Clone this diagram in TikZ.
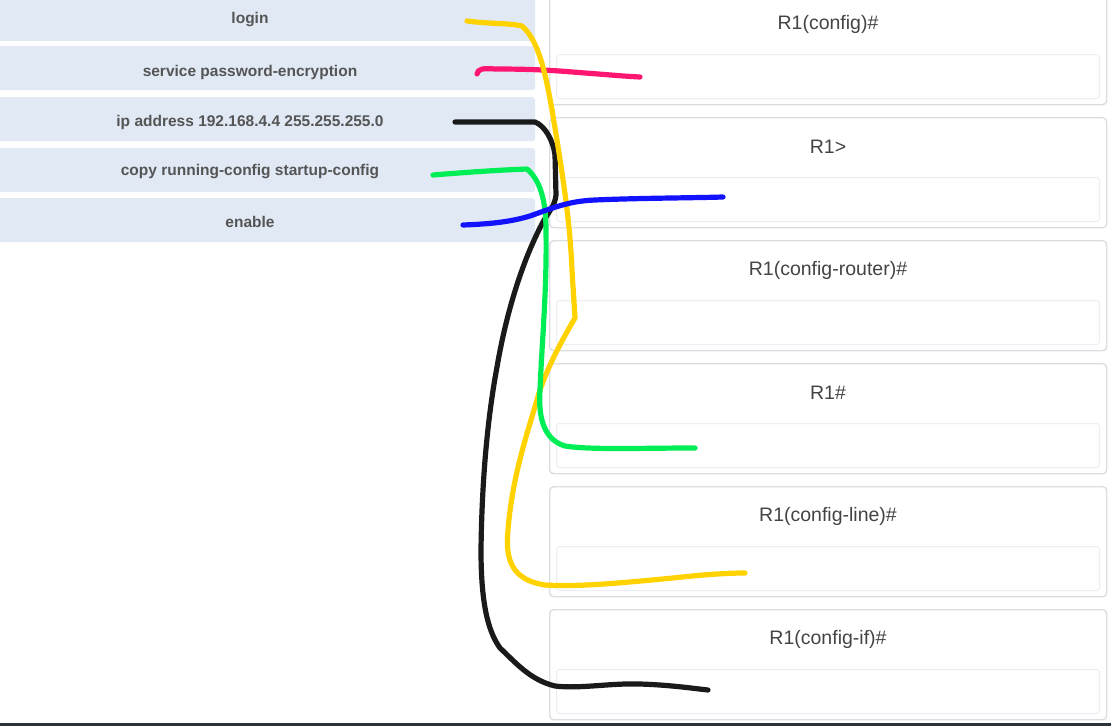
\documentclass[tikz,border=0pt]{standalone}
\usepackage{fontspec}
\setmainfont{Liberation Sans}
\definecolor{barblue}{HTML}{E1E9F5}
\definecolor{boxline}{HTML}{DCDDE3}
\definecolor{innerline}{HTML}{EDEEF3}
\definecolor{labelgray}{HTML}{555555}
\definecolor{titlegray}{HTML}{444444}
\definecolor{penyellow}{HTML}{FFD200}
\definecolor{penpink}{HTML}{FF1670}
\definecolor{penblack}{HTML}{1A1A1A}
\definecolor{pengreen}{HTML}{00EE55}
\definecolor{penblue}{HTML}{1212FF}
\definecolor{bottomline}{HTML}{2C343A}
\tikzset{
  cmdbar/.style={fill=barblue, draw=none, rounded corners=3pt, minimum width=545pt, minimum height=44pt, anchor=north west, inner sep=0pt},
  cmdtext/.style={text=labelgray, font=\fontsize{15.5}{17}\selectfont\bfseries},
  modebox/.style={draw=boxline, line width=1.4pt, fill=white, rounded corners=4pt, minimum width=557pt, minimum height=110pt, anchor=north west, inner sep=0pt},
  innerbox/.style={draw=innerline, line width=1pt, rounded corners=3pt, minimum width=543pt, minimum height=44pt, anchor=north west, inner sep=0pt},
  modetext/.style={text=titlegray, font=\fontsize{19.5}{21}\selectfont},
  pen/.style={line width=5.2pt, line cap=round, line join=round}
}
\begin{document}
\begin{tikzpicture}[x=1pt,y=-1pt]
\useasboundingbox (0,0) rectangle (1111,726);
\fill[white] (0,0) rectangle (1111,726);
% left command bars
\node[cmdbar] (b1) at (-10,-3) {};
\node[cmdbar] (b2) at (-10,46) {};
\node[cmdbar] (b3) at (-10,97) {};
\node[cmdbar] (b4) at (-10,148) {};
\node[cmdbar] (b5) at (-10,198) {};
\node[cmdtext] (t1) at (250,20) {login};
\node[cmdtext] (t2) at (250,72) {service password-encryption};
\node[cmdtext] (t3) at (250,122) {ip address 192.168.4.4 255.255.255.0};
\node[cmdtext] (t4) at (250,172) {copy running-config startup-config};
\node[cmdtext] (t5) at (250,222) {enable};
% right mode boxes
\foreach \i/\name/\txt in {0/m1/R1(config)\#, 1/m2/R1>, 2/m3/R1(config-router)\#, 3/m4/R1\#, 4/m5/R1(config-line)\#, 5/m6/R1(config-if)\#}{
  \node[modebox] (\name) at (549,{-6+123*\i}) {};
  \node[innerbox] (\name in) at (556,{54+123*\i}) {};
  \node[modetext] (\name t) at (828,{24+123*\i}) {\txt};
}
% bottom rule
\fill[bottomline] (0,723) rectangle (1111,726);
% hand drawn lines
\draw[pen, penpink] (477,74) .. controls (478,69) and (482,68) .. (495,69)
  .. controls (540,69) and (560,71) .. (585,73) .. controls (600,74) and (620,76) .. (640,77);
\draw[pen, penblack] (455,122) -- (535,122) .. controls (545,126) and (553,140) .. (555,155)
  -- (556,195) .. controls (555,205) and (550,210) .. (543,222)
  .. controls (520,265) and (505,320) .. (497,367)
  .. controls (489,410) and (482,470) .. (481,550)
  .. controls (481,600) and (487,630) .. (500,648)
  .. controls (515,662) and (530,680) .. (555,686)
  .. controls (580,689) and (610,683) .. (640,684)
  .. controls (670,685) and (690,688) .. (708,690);
\draw[pen, penyellow] (467,21) .. controls (490,24) and (510,23) .. (522,26)
  .. controls (538,40) and (545,70) .. (552,110)
  .. controls (562,170) and (570,220) .. (572,270)
  -- (575,318) .. controls (565,335) and (545,370) .. (537,400)
  .. controls (525,440) and (512,480) .. (508,530)
  .. controls (505,560) and (512,580) .. (545,585)
  .. controls (580,587) and (620,583) .. (673,578)
  .. controls (700,575) and (725,573) .. (745,573);
\draw[pen, pengreen] (433,175) .. controls (470,172) and (500,170) .. (527,169)
  .. controls (540,180) and (546,200) .. (546,230)
  .. controls (547,290) and (542,340) .. (540,390)
  .. controls (538,420) and (545,440) .. (565,446)
  .. controls (590,450) and (640,448) .. (695,448);
\draw[pen, penblue] (463,225) .. controls (490,224) and (510,222) .. (530,216)
  .. controls (555,207) and (570,201) .. (595,200)
  .. controls (640,198) and (690,198) .. (723,197);
\end{tikzpicture}
\end{document}
